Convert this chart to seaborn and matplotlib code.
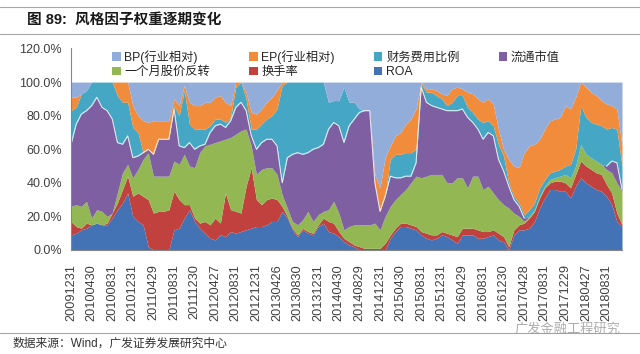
import numpy as np
import seaborn as sns
import matplotlib.pyplot as plt
from matplotlib.lines import Line2D
from matplotlib.ticker import FuncFormatter, MultipleLocator

# Monthly factor weights (%), Dec 2009 - Nov 2018
roa = [9, 10, 12, 13, 15, 16, 15, 15, 19, 24,
       28, 34, 20, 17, 15, 2, 0, 0, 0, 0,
       12, 13, 19, 24, 17, 13, 10, 7, 6, 9,
       8, 11, 10, 11, 12, 13, 14, 14, 15, 17,
       17, 23, 19, 12, 8, 12, 10, 9, 14, 16,
       11, 10, 8, 5, 3, 2, 0, 0, 0, 0,
       0, 0, 7, 11, 14, 14, 13, 12, 9, 7,
       6, 7, 9, 8, 6, 4, 9, 9, 9, 7,
       7, 8, 9, 6, 5, 0, 9, 12, 12, 13,
       17, 25, 31, 36, 36, 35, 35, 31, 38, 43,
       40, 38, 36, 35, 32, 27, 17, 14]
turnover = [8, 4, 1, 3, 0, 0, 0, 1, 3, 4,
            8, 10, 12, 17, 17, 28, 22, 23, 23, 24,
            23, 17, 8, 3, 2, 3, 7, 8, 13, 7,
            26, 13, 13, 11, 26, 36, 16, 13, 15, 14,
            13, 3, 1, 1, 1, 1, 1, 1, 1, 3,
            6, 6, 3, 2, 2, 1, 2, 1, 1, 1,
            1, 4, 2, 2, 2, 2, 2, 2, 2, 3,
            3, 2, 2, 2, 3, 4, 4, 4, 4, 5,
            4, 3, 3, 4, 3, 2, 3, 3, 4, 6,
            6, 6, 6, 4, 5, 6, 5, 6, 7, 10,
            10, 10, 10, 10, 7, 7, 5, 1]
reversal = [9, 13, 13, 13, 4, 8, 8, 4, 0, 6,
            10, 7, 11, 14, 22, 28, 22, 21, 21, 20,
            18, 21, 30, 23, 30, 42, 45, 48, 45, 49,
            32, 43, 46, 49, 34, 13, 15, 21, 19, 18,
            15, 7, 5, 4, 6, 5, 12, 7, 6, 4,
            7, 13, 11, 5, 9, 12, 13, 14, 14, 15,
            11, 16, 17, 17, 17, 20, 25, 30, 32, 34,
            36, 36, 34, 30, 31, 35, 30, 24, 31, 32,
            25, 27, 22, 20, 19, 23, 10, 5, 1, 1,
            1, 1, 1, 2, 2, 3, 5, 6, 5, 10,
            7, 7, 7, 6, 9, 12, 18, 20]
mkt_cap = [37, 48, 55, 54, 67, 67, 62, 63, 56, 30,
           17, 17, 12, 8, 4, 2, 13, 22, 22, 22,
           31, 11, 4, 14, 11, 4, 1, 7, 10, 10,
           7, 10, 16, 17, 11, 6, 15, 16, 17, 17,
           17, 7, 30, 40, 43, 39, 35, 43, 40, 40,
           48, 47, 52, 52, 60, 63, 67, 68, 68, 24,
           11, 12, 18, 13, 10, 8, 4, 8, 54, 44,
           41, 40, 39, 43, 43, 40, 41, 42, 32, 28,
           30, 32, 34, 24, 20, 13, 8, 6, 2, 0,
           0, 0, 0, 0, 0, 0, 0, 0, 0, 0,
           0, 0, 0, 0, 2, 7, 12, 1]
fin_cost = [20, 10, 12, 12, 14, 9, 15, 17, 22, 28,
            25, 20, 18, 14, 0, 0, 0, 0, 0, 0,
            2, 18, 34, 11, 12, 10, 9, 4, 4, 3,
            3, 2, 12, 12, 7, 4, 12, 11, 12, 14,
            22, 58, 45, 43, 42, 43, 42, 40, 39, 37,
            16, 13, 15, 33, 14, 10, 2, 0, 0, 0,
            0, 0, 10, 14, 14, 14, 14, 8, 2, 6,
            8, 7, 6, 3, 5, 9, 8, 6, 6, 6,
            10, 7, 6, 9, 9, 2, 2, 2, 2, 4,
            4, 5, 4, 4, 4, 4, 5, 8, 10, 23,
            22, 21, 22, 23, 22, 20, 20, 14]
ep = [8, 6, 0, 0, 0, 0, 0, 0, 0, 8,
      12, 12, 13, 10, 19, 16, 20, 11, 11, 11,
      4, 6, 3, 13, 14, 14, 16, 14, 13, 14,
      12, 7, 3, 0, 4, 10, 9, 9, 10, 11,
      11, 2, 0, 0, 0, 0, 0, 0, 0, 0,
      0, 0, 0, 0, 0, 0, 0, 0, 0, 5,
      14, 23, 8, 11, 13, 17, 20, 24, 1, 2,
      2, 3, 3, 6, 8, 5, 4, 9, 11, 12,
      12, 13, 13, 9, 4, 14, 18, 21, 37, 38,
      35, 29, 30, 31, 31, 31, 36, 33, 31, 14,
      18, 18, 17, 15, 15, 13, 12, 12]
bp = [9, 9, 7, 5, 0, 0, 0, 0, 0, 0,
      0, 0, 14, 20, 23, 24, 23, 23, 23, 23,
      10, 14, 2, 12, 14, 14, 12, 12, 9, 8,
      12, 14, 0, 0, 6, 18, 19, 16, 12, 9,
      5, 0, 0, 0, 0, 0, 0, 0, 0, 0,
      12, 11, 11, 3, 12, 12, 16, 17, 17, 55,
      63, 45, 38, 32, 30, 25, 22, 16, 0, 4,
      4, 5, 7, 8, 4, 3, 4, 6, 7, 10,
      12, 10, 13, 28, 40, 46, 50, 51, 42, 38,
      37, 34, 28, 23, 22, 21, 14, 16, 9, 0,
      3, 6, 8, 11, 13, 14, 16, 38]

series_names = ['ROA', '换手率', '一个月股价反转', '流通市值',
                '财务费用比例', 'EP(行业相对)', 'BP(行业相对)']
tick_labels = ['20091231', '20100430', '20100831', '20101231', '20110429',
               '20110831', '20111230', '20120427', '20120831', '20121231',
               '20130426', '20130830', '20131231', '20140430', '20140829',
               '20141231', '20150430', '20150831', '20151231', '20160429',
               '20160831', '20161230', '20170428', '20170831', '20171229',
               '20180427', '20180831']

colors = ['#4473B5', '#C0413D', '#93B853', '#7E5FA2',
          '#45A7C4', '#F08C3C', '#93ADDB']

sns.set_style('white')
plt.rcParams['font.family'] = ['Liberation Sans', 'Noto Sans CJK SC']

series = [np.array(s) / 100 for s in [roa, turnover, reversal, mkt_cap, fin_cost, ep, bp]]
x = np.arange(len(roa))

fig = plt.figure(figsize=(6.4, 3.54), dpi=100)
ax = fig.add_axes([71 / 640, 1 - 250 / 354, 551 / 640, 201.5 / 354])

polys = ax.stackplot(x, *series, colors=colors, labels=series_names, lw=0)

# thin white edge along the top of the 流通市值 band
cap_top = series[0] + series[1] + series[2] + series[3]
cap_top = np.where(series[3] > 0, cap_top, np.nan)
ax.plot(x, cap_top, color='white', lw=0.7, alpha=0.85)

ax.set_xlim(0, len(x) - 1)
ax.set_ylim(0, 1.2)
ax.set_yticks(np.arange(0, 1.21, 0.2))
ax.yaxis.set_major_formatter(FuncFormatter(lambda v, p: f'{v * 100:.1f}%'))
ax.set_xticks(np.arange(0, len(x), 4))
ax.set_xticklabels(tick_labels, rotation=90)
ax.xaxis.set_minor_locator(MultipleLocator(1))
ax.tick_params(axis='both', which='both', direction='out', length=3,
               color='#868686', width=0.8, labelsize=9, labelcolor='#404040')
ax.tick_params(axis='x', pad=7, labelsize=9.2)
for side in ['top', 'right']:
    ax.spines[side].set_visible(False)
for side in ['left', 'bottom']:
    ax.spines[side].set_color('#868686')
    ax.spines[side].set_linewidth(0.8)

order = [6, 2, 5, 1, 4, 0, 3]
fig.legend([polys[i] for i in order], [series_names[i] for i in order],
           loc='upper left', bbox_to_anchor=(112 / 640, 1 - 50 / 354),
           ncol=4, frameon=False, fontsize=8.8, handlelength=0.7,
           handleheight=0.7, handletextpad=0.3, columnspacing=3.2,
           borderpad=0, borderaxespad=0, labelspacing=0.2)

# header / footer decorations
for yy in [7, 34, 333]:
    fig.add_artist(Line2D([0, 1], [1 - yy / 354] * 2, color='#A6A6A6', lw=0.8))
fig.text(27 / 640, 1 - 20 / 354, '图 89:  风格因子权重逐期变化',
         fontsize=10.5, weight='bold', va='center', color='#1A1A1A')
fig.text(13 / 640, 1 - 344 / 354, '数据来源：Wind，广发证券发展研究中心',
         fontsize=8.5, va='center', color='#333333')
fig.text(620 / 640, 1 - 329 / 354, '广发金融工程研究', fontsize=9.5,
         ha='right', va='center', color='#9A9A9A', alpha=0.8)

fig.savefig('out.png', dpi=100)
